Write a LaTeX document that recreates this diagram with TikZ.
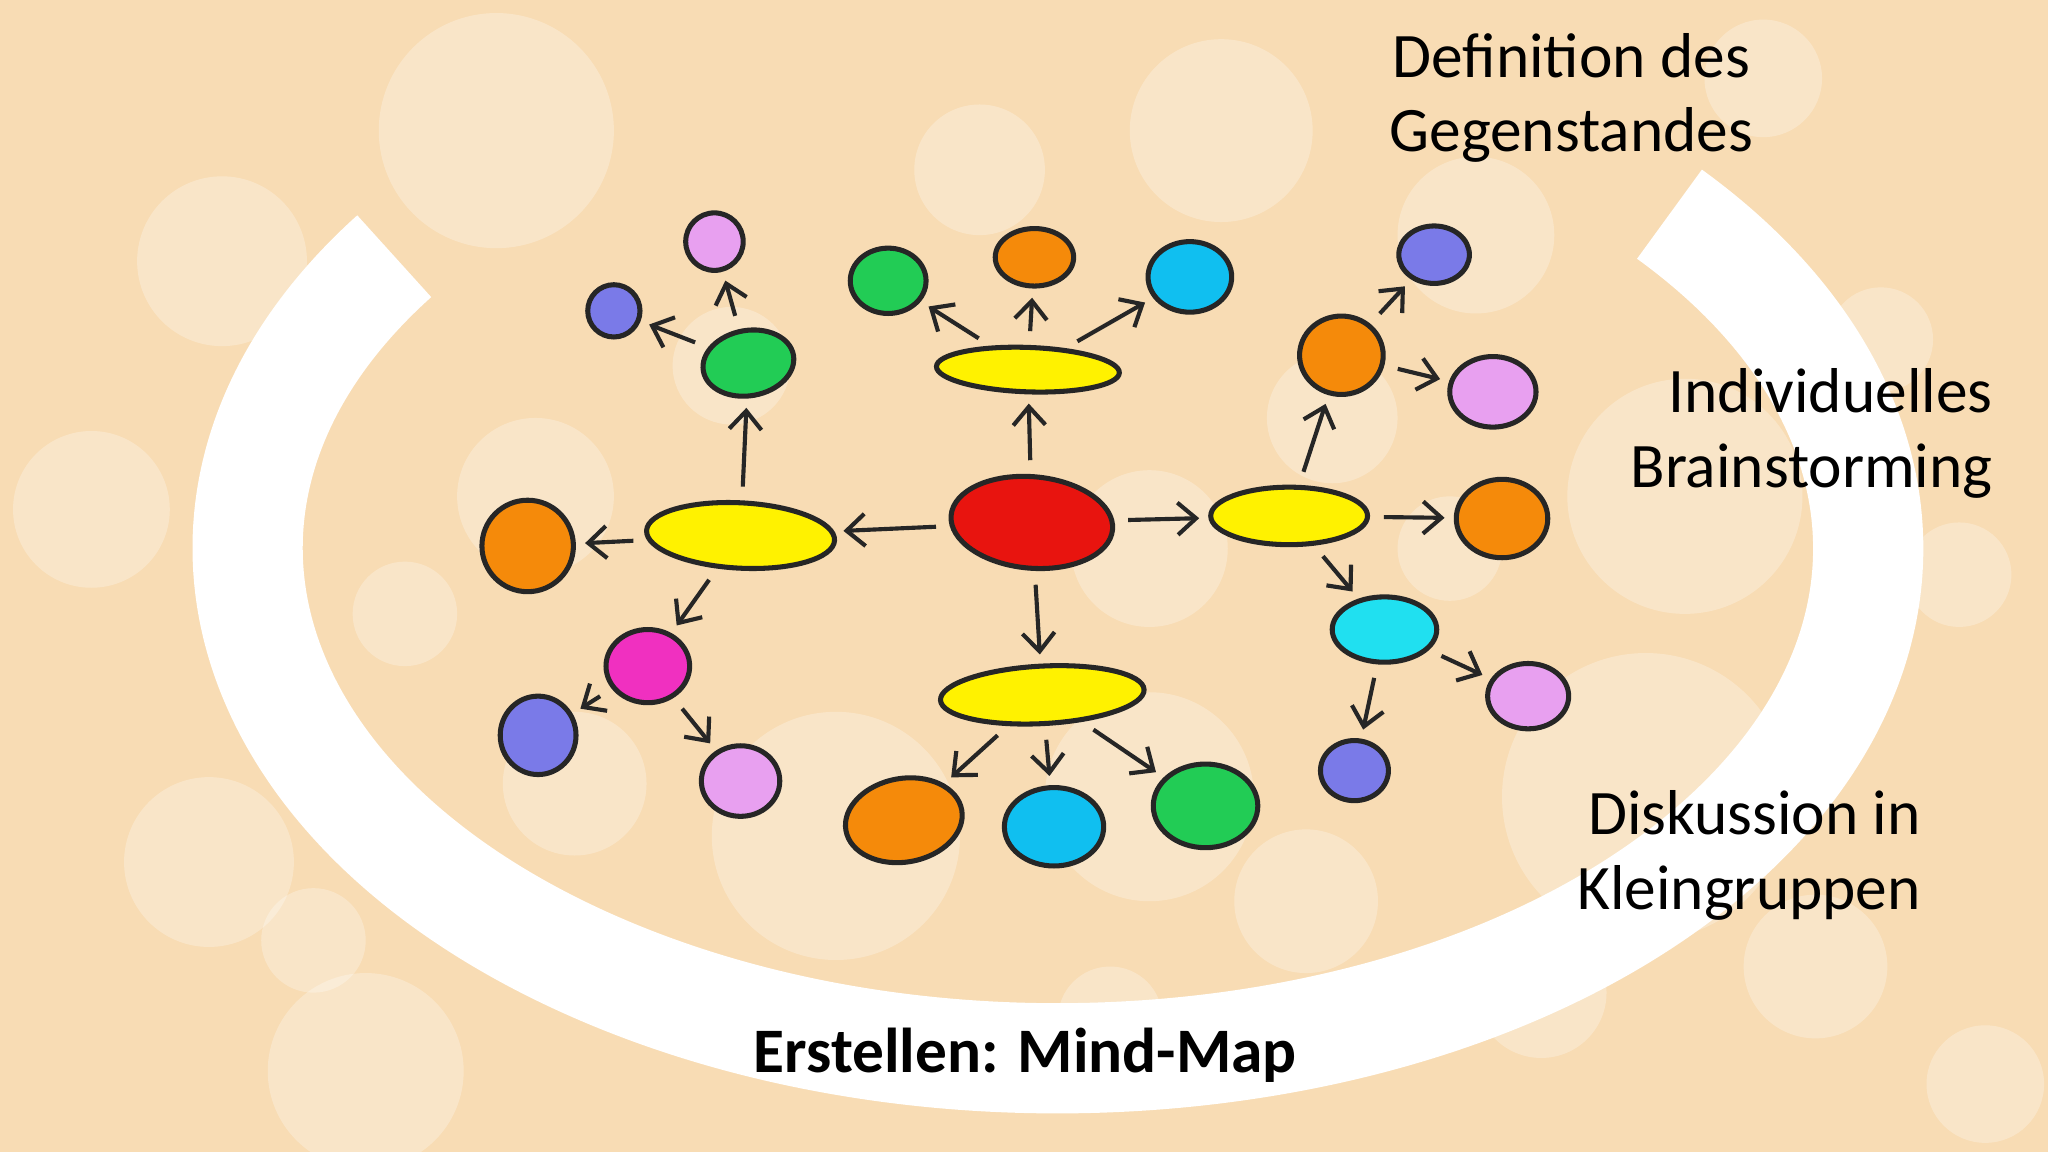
\documentclass[tikz,border=0pt]{standalone}
\usepackage{fontspec}
\setmainfont{Carlito}
\usetikzlibrary{shapes.geometric,arrows.meta}
\definecolor{bg}{HTML}{F8DCB4}
\definecolor{cred}{HTML}{E8140F}
\definecolor{cyel}{HTML}{FFF200}
\definecolor{cgrn}{HTML}{22CC55}
\definecolor{cora}{HTML}{F58A0A}
\definecolor{clav}{HTML}{E8A0F0}
\definecolor{cblu}{HTML}{7A7AE8}
\definecolor{ccya}{HTML}{10BFF0}
\definecolor{cmag}{HTML}{F030C0}
\definecolor{ccy2}{HTML}{20E0F0}
\begin{document}
\begin{tikzpicture}[x=0.01cm,y=-0.01cm,
  blob/.style={ellipse,draw=black!85,line width=1.1pt,inner sep=0pt},
  arr/.style={-{Straight Barb[length=4pt,width=7pt]},line width=0.9pt,black!85,shorten <=3pt,shorten >=2pt},
  lab/.style={font=\fontsize{13.8}{16.3}\selectfont,align=center}]
\fill[bg] (0,0) rectangle (1568,882);
\useasboundingbox (0,0) rectangle (1568,882);
\foreach \x/\y/\r in {380/100/90,170/200/65,70/390/60,935/100/70,750/130/50,1130/180/60,1290/380/90,1440/260/40,1500/440/40,1260/610/110,1390/740/55,1520/830/45,160/660/65,280/820/75,440/600/55,640/640/95,880/610/80,1000/690/55,410/380/60,560/280/45,1020/320/50,880/420/60,1110/420/40,310/470/40,1350/60/45,240/720/40,1180/760/50,850/780/40}
  \fill[white,opacity=0.28] (\x,\y) circle[radius=\r*0.01cm];
\draw[white,line width=24pt] ([shift={(145:6.2cm and 3.9cm)}]810,420) arc[start angle=145,end angle=401,x radius=6.2cm,y radius=3.9cm];
% nodes
\node[blob,fill=cred,minimum width=1.24cm,minimum height=0.7cm,rotate=-5] (c) at (790,400) {};
\node[blob,fill=cyel,minimum width=1.44cm,minimum height=0.5cm,rotate=-3] (yl) at (567,410) {};
\node[blob,fill=cyel,minimum width=1.4cm,minimum height=0.34cm,rotate=-2] (yt) at (787,283) {};
\node[blob,fill=cyel,minimum width=1.2cm,minimum height=0.44cm] (yr) at (987,395) {};
\node[blob,fill=cyel,minimum width=1.56cm,minimum height=0.44cm,rotate=3] (yb) at (798,532) {};
\node[blob,fill=cora,minimum width=0.7cm,minimum height=0.7cm] (l1) at (404,418) {};
\node[blob,fill=cgrn,minimum width=0.7cm,minimum height=0.5cm,rotate=10] (l2) at (573,278) {};
\node[blob,fill=clav,minimum width=0.44cm,minimum height=0.44cm] (l3) at (547,185) {};
\node[blob,fill=cblu,minimum width=0.4cm,minimum height=0.4cm] (l4) at (470,238) {};
\node[blob,fill=cmag,minimum width=0.64cm,minimum height=0.56cm] (l5) at (496,510) {};
\node[blob,fill=cblu,minimum width=0.58cm,minimum height=0.6cm] (l6) at (412,563) {};
\node[blob,fill=clav,minimum width=0.6cm,minimum height=0.54cm] (l7) at (567,598) {};
\node[blob,fill=cgrn,minimum width=0.58cm,minimum height=0.5cm] (t1) at (680,215) {};
\node[blob,fill=cora,minimum width=0.6cm,minimum height=0.44cm] (t2) at (792,197) {};
\node[blob,fill=ccya,minimum width=0.64cm,minimum height=0.54cm] (t3) at (911,212) {};
\node[blob,fill=cora,minimum width=0.64cm,minimum height=0.6cm] (r1) at (1027,272) {};
\node[blob,fill=cblu,minimum width=0.54cm,minimum height=0.44cm] (r2) at (1098,195) {};
\node[blob,fill=clav,minimum width=0.66cm,minimum height=0.54cm] (r3) at (1143,300) {};
\node[blob,fill=cora,minimum width=0.7cm,minimum height=0.6cm] (r4) at (1150,397) {};
\node[blob,fill=ccy2,minimum width=0.8cm,minimum height=0.5cm] (r5) at (1060,482) {};
\node[blob,fill=clav,minimum width=0.62cm,minimum height=0.5cm] (r6) at (1170,533) {};
\node[blob,fill=cblu,minimum width=0.52cm,minimum height=0.46cm] (r7) at (1037,590) {};
\node[blob,fill=cora,minimum width=0.9cm,minimum height=0.64cm,rotate=10] (b1) at (692,628) {};
\node[blob,fill=ccya,minimum width=0.76cm,minimum height=0.6cm] (b2) at (807,633) {};
\node[blob,fill=cgrn,minimum width=0.8cm,minimum height=0.64cm] (b3) at (923,617) {};
% arrows
\foreach \a/\b in {c/yl,c/yt,c/yr,c/yb,yl/l1,yl/l2,l2/l3,l2/l4,yl/l5,l5/l6,l5/l7,yt/t1,yt/t2,yt/t3,yr/r1,r1/r2,r1/r3,yr/r4,yr/r5,r5/r6,r5/r7,yb/b1,yb/b2,yb/b3}
  \draw[arr] (\a) -- (\b);
% texts
\node[lab] (t_def) at (1203,75) {Definition des\\Gegenstandes};
\node[lab,align=right,anchor=east] (t_ind) at (1538,332) {Individuelles\\Brainstorming};
\node[lab,align=right,anchor=east] (t_dis) at (1483,655) {Diskussion in\\Kleingruppen};
\node[lab,font=\fontsize{13.8}{16.3}\selectfont\bfseries] (t_mm) at (785,808) {Erstellen: Mind-Map};
\end{tikzpicture}
\end{document}
